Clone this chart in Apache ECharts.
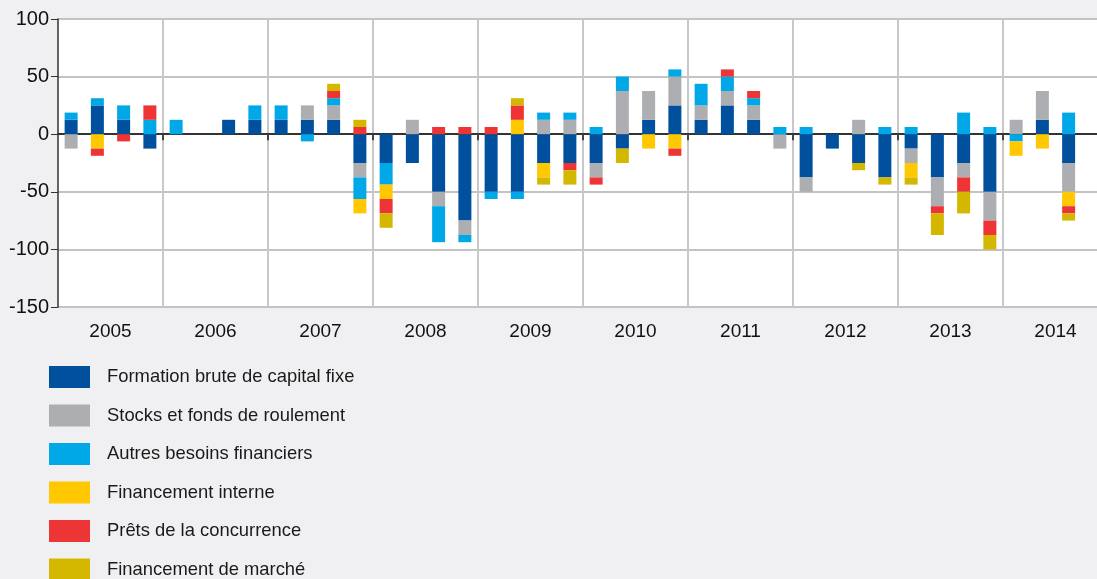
<!DOCTYPE html>
<html><head><meta charset="utf-8">
<script src="https://cdn.jsdelivr.net/npm/echarts@6/dist/echarts.min.js"></script>
<style>html,body{margin:0;padding:0;background:#f0f0f2;overflow:hidden;width:1097px;height:579px}#c{width:1130px;height:600px}</style>
</head><body><div id="c"></div>
<script>
const years = ['2005','2006','2007','2008','2009','2010','2011','2012','2013','2014'];
const quarters = [];
years.forEach(y => { for (let q = 1; q <= 4; q++) quarters.push(y + 'T' + q); });
const yTicks = [-150, -100, -50, 0, 50, 100];

const seriesNames = ['Formation brute de capital fixe','Stocks et fonds de roulement','Autres besoins financiers','Financement interne','Prêts de la concurrence','Financement de marché'];
const formation = [12.5,25,12.5,-12.5, 0,0,12.5,12.5, 12.5,12.5,12.5,-25, -25,-25,-50,-75, -50,-50,-25,-25, -25,-12.5,12.5,25, 12.5,25,12.5,0, -37.5,-12.5,-25,-37.5, -12.5,-37.5,-25,-50, 0,12.5,-25,0];
const stocks = [-12.5,0,0,0, 0,0,0,0, 0,12.5,12.5,-12.5, 0,12.5,-12.5,-12.5, 0,0,12.5,12.5, -12.5,37.5,25,25, 12.5,12.5,12.5,-12.5, -12.5,0,12.5,0, -12.5,-25,-12.5,-25, 12.5,25,-25,0];
const autres = [6.25,6.25,12.5,12.5, 12.5,0,0,12.5, 12.5,-6.25,6.25,-18.75, -18.75,0,-31.25,-6.25, -6.25,-6.25,6.25,6.25, 6.25,12.5,0,6.25, 18.75,12.5,6.25,6.25, 6.25,0,0,6.25, 6.25,0,18.75,6.25, -6.25,0,18.75,0];
const interne = [0,-12.5,0,0, 0,0,0,0, 0,0,0,-12.5, -12.5,0,0,0, 0,12.5,-12.5,0, 0,0,-12.5,-12.5, 0,0,0,0, 0,0,0,0, -12.5,0,0,0, -12.5,-12.5,-12.5,0];
const prets = [0,-6.25,-6.25,12.5, 0,0,0,0, 0,0,6.25,6.25, -12.5,0,6.25,6.25, 6.25,12.5,0,-6.25, -6.25,0,0,-6.25, 0,6.25,6.25,0, 0,0,0,0, 0,-6.25,-12.5,-12.5, 0,0,-6.25,0];
const marche = [0,0,0,0, 0,0,0,0, 0,0,6.25,6.25, -12.5,0,0,0, 0,6.25,-6.25,-12.5, 0,-12.5,0,0, 0,0,0,0, 0,0,-6.25,-6.25, -6.25,-18.75,-18.75,-12.5, 0,0,-6.25,0];
const seriesData = [formation, stocks, autres, interne, prets, marche];
const colors = ['#00509e','#adaeb1','#00a8e8','#ffc800','#ee3536','#d4b800'];

const chart = echarts.init(document.getElementById('c'), null, {renderer:'canvas'});
const font = 'Liberation Sans, Arial, sans-serif';
chart.setOption({
  backgroundColor: '#f0f0f2',
  animation: false,
  grid: {left: 58, top: 19, width: 1050, height: 288, show: true, backgroundColor: '#ffffff', borderWidth: 0},
  legend: {
    orient: 'vertical', left: 49, top: 366, padding: 0, height: 400,
    itemWidth: 41, itemHeight: 22, itemGap: 16.5,
    textStyle: {fontSize: 18.4, fontFamily: font, color: '#1a1a1a', padding: [0,0,0,12]},
    data: seriesNames.map(n => ({name: n, icon: 'rect'}))
  },
  xAxis: [{
    type: 'category', data: quarters, gridIndex: 0,
    axisLine: {onZero: true, lineStyle: {color: '#333', width: 2}},
    axisTick: {show: true, interval: i => i % 4 === 0 && i > 0, length: 6, lineStyle: {color: '#444', width: 2}},
    axisLabel: {show: false},
    splitLine: {show: true, interval: i => i % 4 === 0 && i > 0, lineStyle: {color: '#c8c8c8', width: 2}}
  }, {
    type: 'category', data: years, gridIndex: 0, position: 'bottom',
    axisLine: {show: false, onZero: false}, axisTick: {show: false},
    axisLabel: {fontSize: 19, fontFamily: font, color: '#111', margin: 15},
    splitLine: {show: false}
  }],
  yAxis: {
    type: 'value', min: -150, max: 100, interval: 50,
    axisLine: {show: true, lineStyle: {color: '#333', width: 1.5}},
    axisTick: {show: true, length: 7, lineStyle: {color: '#333'}},
    axisLabel: {fontSize: 20, fontFamily: font, color: '#111', margin: 9},
    splitLine: {show: true, lineStyle: {color: '#c3c3c3', width: 2}}
  },
  series: seriesNames.map((n, k) => ({
    name: n, type: 'bar', stack: 'total', xAxisIndex: 0,
    data: seriesData[k], barWidth: 13,
    itemStyle: {color: colors[k]}
  }))
});
</script></body></html>
